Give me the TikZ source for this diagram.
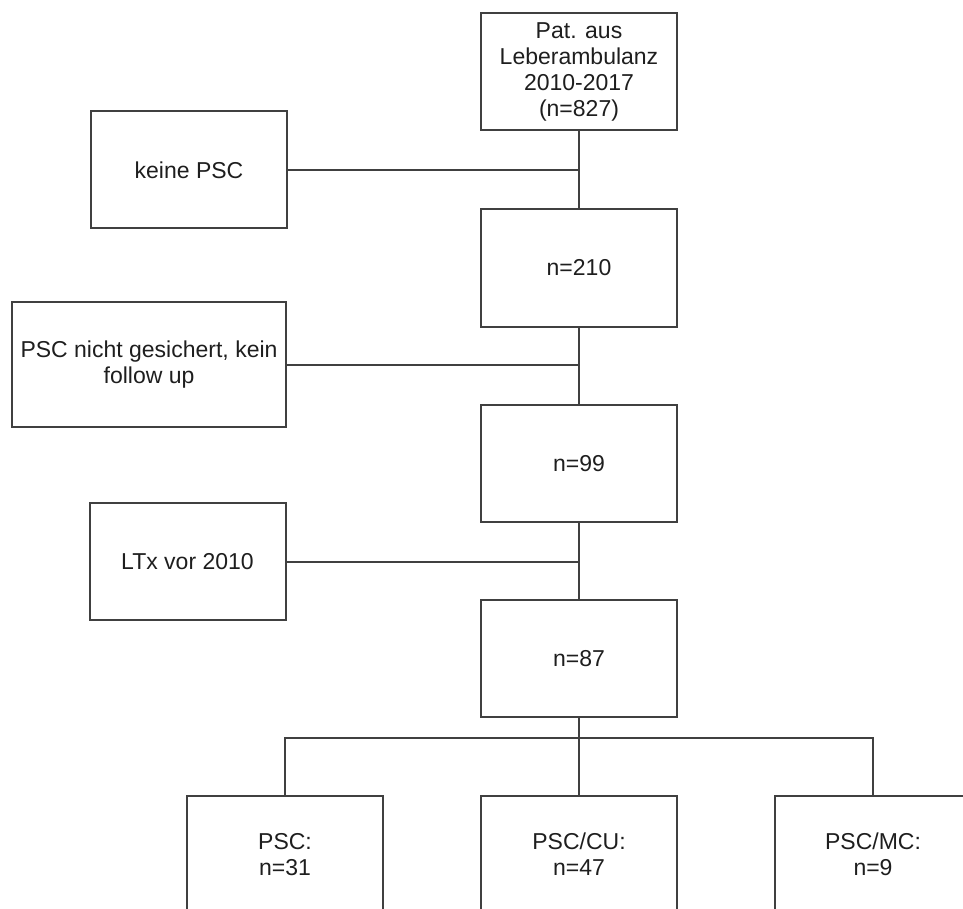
\documentclass[tikz,border=0pt]{standalone}
\usepackage{fontspec}
\setmainfont{Liberation Sans}
\usetikzlibrary{calc}
\definecolor{linegray}{HTML}{404040}
\definecolor{textgray}{HTML}{1E1E1E}
\tikzset{
    box/.style={draw=linegray, line width=2pt, minimum width=196pt, minimum height=117pt,
        align=center, inner sep=2pt, font=\fontsize{23}{26}\selectfont, text=textgray},
    link/.style={draw=linegray, line width=2pt}
}
\begin{document}
\begin{tikzpicture}[x=1pt, y=-1pt]

    \useasboundingbox (0,0) rectangle (963,909);
    \clip (0,0) rectangle (963,909);

    % main column
    \node [box] (all) at (579, 71.5) {Pat. aus\\Leberambulanz\\2010-2017\\(n=827)};
    \node [box] (n210) at (579, 268) {n=210};
    \node [box] (n99) at (579, 463.5) {n=99};
    \node [box] (n87) at (579, 658.5) {n=87};

    % excluded
    \node [box] (nopsc) at (189, 170) {keine PSC};
    \node [box, minimum width=274pt, minimum height=125pt] (unsure) at (149, 364.5) {PSC nicht gesichert, kein\\follow up};
    \node [box] (ltx) at (187.5, 561.5) {LTx vor 2010};

    % groups
    \node [box] (psc) at (285, 854.5) {PSC:\\n=31};
    \node [box] (psccu) at (579, 854.5) {PSC/CU:\\n=47};
    \node [box] (pscmc) at (873, 854.5) {PSC/MC:\\n=9};

    \draw [link] (all) -- (n210);
    \draw [link] (n210) -- (n99);
    \draw [link] (n99) -- (n87);

    \draw [link] (nopsc.east) -- (nopsc.east -| all.south);
    \draw [link] (unsure.east) -- (unsure.east -| n210.south);
    \draw [link] (ltx.east) -- (ltx.east -| n99.south);

    \coordinate (bus) at ($(n87.south)+(0,20)$);
    \draw [link] (n87.south) -- (psccu.north);
    \draw [link] (psc.north) |- (bus) -| (pscmc.north);

\end{tikzpicture}
\end{document}
